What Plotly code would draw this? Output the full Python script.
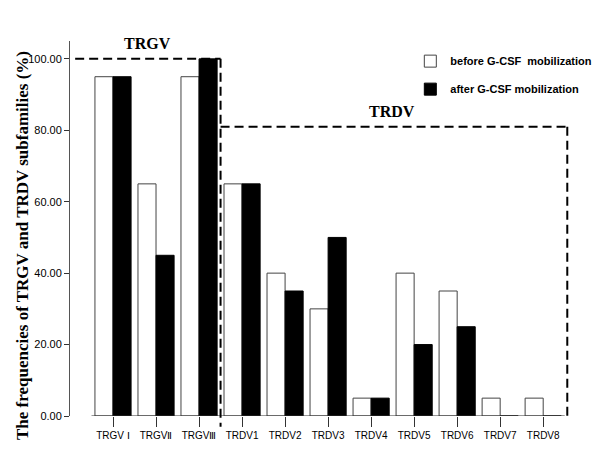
import plotly.graph_objects as go

categories = ["TRGV Ⅰ", "TRGVⅡ", "TRGVⅢ", "TRDV1", "TRDV2", "TRDV3", "TRDV4",
              "TRDV5", "TRDV6", "TRDV7", "TRDV8"]
before_vals = [95, 65, 95, 65, 40, 30, 5, 40, 35, 5, 5]
after_vals = [95, 45, 100, 65, 35, 50, 5, 20, 25, 0, 0]
y_ticks = [0, 20, 40, 60, 80, 100]

sans = "Liberation Sans, Arial, sans-serif"
serif = "Liberation Serif, Times New Roman, serif"

x_idx = list(range(len(categories)))
Y_TOP = 105

fig = go.Figure()
fig.add_trace(go.Bar(
    x=x_idx, y=before_vals, name="before G-CSF  mobilization",
    marker=dict(color="white", line=dict(color="#444444", width=1)),
    legendgroup="a",
))
fig.add_trace(go.Bar(
    x=x_idx, y=after_vals, name="after G-CSF mobilization",
    marker=dict(color="black", line=dict(color="black", width=1)),
    legendgroup="b",
))

dash = "9px,5px"
# baseline
fig.add_shape(type="line", x0=-0.5, x1=10.5, y0=0, y1=0, xref="x", yref="y",
              line=dict(color="#333333", width=1))
# TRGV box
fig.add_shape(type="line", x0=-0.88, x1=2.5, y0=100, y1=100, xref="x", yref="y",
              line=dict(color="black", width=2, dash=dash))
fig.add_shape(type="line", x0=2.5, x1=2.5, y0=100 / Y_TOP, y1=-3 / Y_TOP,
              xref="x", yref="paper",
              line=dict(color="black", width=2, dash=dash))
# TRDV box
fig.add_shape(type="line", x0=2.5, x1=10.56, y0=81, y1=81, xref="x", yref="y",
              line=dict(color="black", width=2, dash=dash))
fig.add_shape(type="line", x0=10.56, x1=10.56, y0=81 / Y_TOP, y1=-0.6 / Y_TOP,
              xref="x", yref="paper",
              line=dict(color="black", width=2, dash=dash))

fig.add_annotation(x=0.81, y=104.3, xref="x", yref="y", text="<b>TRGV</b>",
                   showarrow=False, font=dict(family=serif, size=16, color="black"))
fig.add_annotation(x=6.49, y=85.3, xref="x", yref="y", text="<b>TRDV</b>",
                   showarrow=False, font=dict(family=serif, size=16, color="black"))
fig.add_annotation(x=-0.0962, y=0.456, xref="paper", yref="paper",
                   xanchor="center", yanchor="middle",
                   text="<b>The frequencies of TRGV and TRDV subfamilies (%)</b>",
                   textangle=-90, showarrow=False,
                   font=dict(family=serif, size=17, color="black"))

fig.update_layout(
    width=600, height=450,
    margin=dict(l=62, r=39, t=33, b=42, autoexpand=False),
    paper_bgcolor="white", plot_bgcolor="white",
    barmode="group", bargap=0.16, bargroupgap=0,
    showlegend=True,
    legend=dict(x=0.682, y=0.985, xanchor="left", yanchor="top",
                bgcolor="rgba(0,0,0,0)",
                font=dict(family=sans, size=11, color="black", weight="bold"),
                tracegroupgap=9, itemwidth=30),
    xaxis=dict(range=[-1.0, 10.6], tickmode="array", tickvals=x_idx,
               ticktext=categories, showline=False, showgrid=False, zeroline=False,
               ticks="outside", ticklen=10, tickcolor="#333333", tickangle=0,
               automargin=False,
               tickfont=dict(family=sans, size=10, color="black")),
    yaxis=dict(range=[0, Y_TOP], tickmode="array", tickvals=y_ticks,
               ticktext=[f"{v:.2f}" for v in y_ticks],
               showline=True, linecolor="#555555", linewidth=1,
               showgrid=False, zeroline=False, ticks="outside", ticklen=5,
               tickcolor="#333333", automargin=False,
               tickfont=dict(family=sans, size=11, color="black")),
)

fig.write_html("out.html")
